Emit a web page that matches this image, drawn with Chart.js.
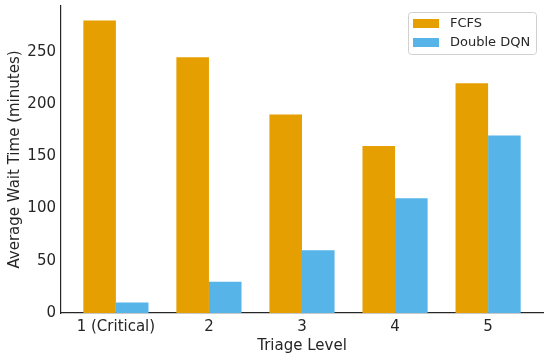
<!DOCTYPE html>
<html>
<head>
<meta charset="utf-8">
<script src="https://cdn.jsdelivr.net/npm/chart.js@4"></script>
<style>
  html, body { margin: 0; padding: 0; background: #fff; }
  #wrap { width: 550px; height: 357px; }
</style>
</head>
<body>
<div id="wrap"><canvas id="chart" width="550" height="357"></canvas></div>
<script>
var levels = ['1 (Critical)', '2', '3', '4', '5'];
var fcfs = [280, 245, 190, 160, 220];
var ddqn = [10, 30, 60, 110, 170];
var yTicks = [0, 50, 100, 150, 200, 250];

var FONT = "'DejaVu Sans', sans-serif";

function pts(vals) {
  return vals.map(function (v, i) { return { x: i, y: v }; });
}

// legend in a framed box, top right like the original
var boxLegend = {
  id: 'boxLegend',
  afterDraw: function (chart) {
    var ctx = chart.ctx;
    var x0 = 408, y0 = 12, w = 128, h = 42;
    ctx.save();
    ctx.fillStyle = 'rgba(255,255,255,0.85)';
    ctx.strokeStyle = '#d0d0d0';
    ctx.lineWidth = 1;
    ctx.beginPath();
    ctx.roundRect(x0 + 0.5, y0 + 0.5, w, h, 3);
    ctx.fill();
    ctx.stroke();
    ctx.font = '13px ' + FONT;
    ctx.textBaseline = 'middle';
    chart.data.datasets.forEach(function (ds, i) {
      var cy = y0 + 11.5 + i * 19;
      ctx.fillStyle = ds.backgroundColor;
      ctx.fillRect(x0 + 5, cy - 4.5, 26, 9);
      ctx.fillStyle = '#262626';
      ctx.fillText(ds.label, x0 + 42, cy);
    });
    ctx.restore();
  }
};

var config = {
  type: 'bar',
  data: {
    datasets: [{
      label: 'FCFS',
      data: pts(fcfs),
      backgroundColor: '#E69F00',
      categoryPercentage: 0.7,
      barPercentage: 1.0
    }, {
      label: 'Double DQN',
      data: pts(ddqn),
      backgroundColor: '#56B4E9',
      categoryPercentage: 0.7,
      barPercentage: 1.0
    }]
  },
  options: {
    responsive: false,
    animation: false,
    layout: { padding: { top: 6, right: 7, left: 0, bottom: 0 } },
    plugins: {
      legend: { display: false },
      tooltip: { enabled: false }
    },
    scales: {
      x: {
        type: 'linear',
        min: -0.59,
        max: 4.59,
        offset: false,
        bounds: 'data',
        grid: { display: false, drawTicks: false, offset: false },
        border: { display: true, color: '#262626', width: 1.2 },
        ticks: {
          padding: 5,
          color: '#262626',
          autoSkip: false,
          maxRotation: 0,
          font: { family: FONT, size: 15 },
          callback: function (v) { return levels[Math.round(v)]; }
        },
        afterBuildTicks: function (s) {
          s.ticks = levels.map(function (l, i) { return { value: i }; });
        },
        afterFit: function (s) { s.height = 44; s.paddingLeft = 0; s.paddingRight = 0; },
        title: {
          display: true,
          text: 'Triage Level',
          color: '#262626',
          font: { family: FONT, size: 15 },
          padding: { top: 0, bottom: 2 }
        }
      },
      y: {
        min: 0,
        max: 294,
        grid: { display: false, drawTicks: false },
        border: { display: true, color: '#262626', width: 1.2 },
        ticks: {
          padding: 5,
          color: '#262626',
          font: { family: FONT, size: 15 }
        },
        afterBuildTicks: function (s) {
          s.ticks = yTicks.map(function (v) { return { value: v }; });
        },
        afterFit: function (s) { s.width = 61; s.paddingTop = 0; s.paddingBottom = 0; },
        title: {
          display: true,
          text: 'Average Wait Time (minutes)',
          color: '#262626',
          font: { family: FONT, size: 15 },
          padding: { top: 6, bottom: 0 }
        }
      }
    }
  },
  plugins: [boxLegend]
};

window.onload = function () {
  var ctx = document.getElementById('chart').getContext('2d');
  window.myBar = new Chart(ctx, config);
};
</script>
</body>
</html>
